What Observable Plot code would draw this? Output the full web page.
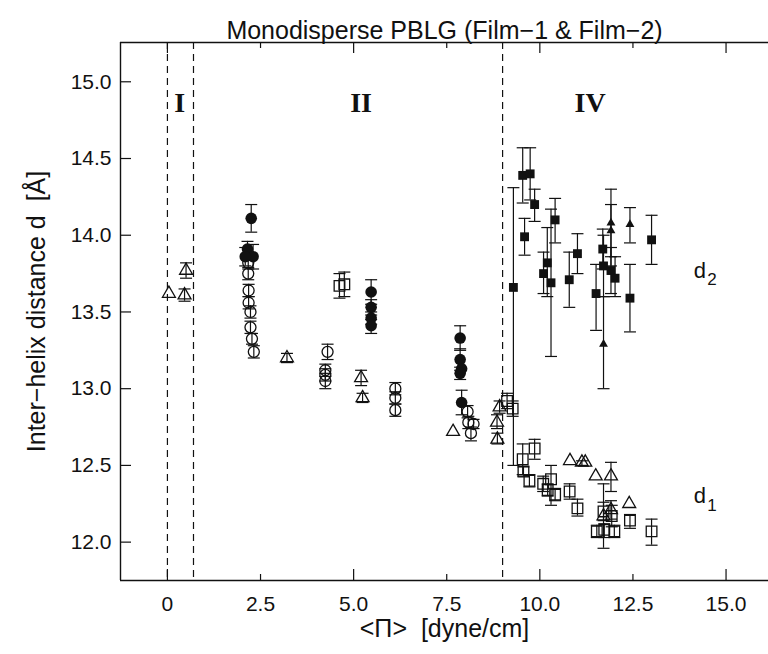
<!DOCTYPE html>
<html>
<head>
<meta charset="utf-8">
<script src="https://cdn.jsdelivr.net/npm/d3@7"></script>
<script src="https://cdn.jsdelivr.net/npm/@observablehq/plot@0.6"></script>
<style>
  html, body { margin: 0; padding: 0; background: #fff; }
</style>
</head>
<body>
<div id="chart"></div>
<script>
// ---------- Text ----------
const titleText = "Monodisperse PBLG (Film\u22121 & Film\u22122)";
const xTitle = "<\u03A0>  [dyne/cm]";
const yTitle = "Inter\u2212helix distance d  [\u00C5]";

// ---------- Axes / ticks ----------
const xDomain = [-1.26, 16.14];
const yDomain = [11.75, 15.256];
const xLabelTicks = [0, 2.5, 5, 7.5, 10, 12.5, 15];
const xMajorTicks = [0, 5, 10, 15];
const xMinorTicks = [2.5, 7.5, 12.5];
const yLabelTicks = [12.0, 12.5, 13.0, 13.5, 14.0, 14.5, 15.0];
const phaseBoundaries = [0, 0.7, 9.0];

// ---------- Region labels ----------
const regionNames = ["I", "II", "IV"];
const regionX = [0.33, 5.2, 11.35];
const regionY = [14.8, 14.8, 14.8];

const seriesNames = ["d", "d"];
const seriesSubs = ["2", "1"];
const seriesLabelX = [14.3, 14.3];
const seriesLabelY = [13.77, 12.30];

// ---------- Data ----------
// Open triangles
const triOpenX  = [0.04, 0.50, 0.46, 3.21, 5.20, 5.24, 7.67, 8.92, 8.85, 8.86, 10.81, 11.13, 11.22, 11.50, 11.91, 12.40, 11.71, 11.91];
const triOpenY  = [13.62, 13.77, 13.61, 13.20, 13.07, 12.94, 12.72, 12.88, 12.78, 12.67, 12.53, 12.52, 12.52, 12.43, 12.43, 12.25, 12.17, 12.21];
const triOpenLo = [null, 13.72, 13.57, 13.17, 13.02, 12.91, null, 12.84, 12.74, 12.64, null, 12.50, null, null, 12.33, null, 11.96, 12.15];
const triOpenHi = [null, 13.82, 13.65, 13.23, 13.12, 12.97, null, 12.92, 12.83, 12.71, null, 12.53, null, null, 12.52, null, 12.38, 12.27];

// Open circles
const circOpenX  = [2.17, 2.17, 2.18, 2.18, 2.23, 2.23, 2.27, 2.32, 4.30, 4.24, 4.24, 4.24, 6.12, 6.12, 6.12, 8.06, 8.08, 8.22, 8.15];
const circOpenY  = [13.82, 13.75, 13.64, 13.56, 13.50, 13.40, 13.325, 13.24, 13.24, 13.12, 13.09, 13.05, 13.00, 12.94, 12.86, 12.85, 12.78, 12.77, 12.71];
const circOpenLo = [13.78, 13.71, 13.60, 13.52, 13.46, 13.36, 13.29, 13.20, 13.19, 13.08, 13.05, 13.00, 12.96, 12.90, 12.82, 12.81, 12.74, 12.74, 12.66];
const circOpenHi = [13.86, 13.79, 13.68, 13.60, 13.54, 13.44, 13.36, 13.28, 13.29, 13.16, 13.13, 13.10, 13.04, 12.98, 12.90, 12.89, 12.82, 12.80, 12.75];

// Filled circles
const circFillX  = [2.25, 2.15, 2.30, 2.09, 5.47, 5.47, 5.47, 5.47, 7.86, 7.86, 7.90, 7.86, 7.90];
const circFillY  = [14.11, 13.91, 13.86, 13.86, 13.63, 13.53, 13.46, 13.41, 13.33, 13.19, 13.13, 13.10, 12.91];
const circFillLo = [14.02, 13.86, 13.78, 13.80, 13.55, 13.48, 13.42, 13.36, 13.25, 13.12, null, 13.06, 12.83];
const circFillHi = [14.20, 13.96, 13.94, 13.92, 13.71, 13.58, 13.50, 13.45, 13.41, 13.26, null, 13.14, 12.99];

// Open squares
const sqOpenX  = [4.62, 4.75, 9.12, 9.27, 9.54, 9.86, 9.56, 9.72, 10.09, 10.30, 10.21, 10.41, 10.80, 11.01, 11.71, 11.93, 11.53, 11.73, 12.00, 12.42, 13.00];
const sqOpenY  = [13.67, 13.68, 12.92, 12.87, 12.54, 12.61, 12.46, 12.40, 12.38, 12.41, 12.34, 12.31, 12.33, 12.22, 12.20, 12.17, 12.07, 12.08, 12.07, 12.14, 12.07];
const sqOpenLo = [13.59, 13.60, 12.87, 12.82, 12.44, 12.54, 12.43, 12.36, 12.33, 12.24, 12.30, 12.27, 12.28, 12.17, 12.14, 12.10, 12.03, 12.03, 12.03, 12.09, 11.98];
const sqOpenHi = [13.75, 13.76, 12.97, 12.92, 12.64, 12.67, 12.49, 12.44, 12.43, 12.50, 12.38, 12.35, 12.38, 12.28, 12.26, 12.24, 12.11, 12.12, 12.11, 12.18, 12.15];

// Filled squares
const sqFillX  = [9.29, 9.54, 9.74, 9.86, 9.59, 10.41, 10.20, 10.10, 10.30, 10.79, 11.01, 11.51, 11.69, 11.71, 11.91, 12.02, 12.42, 13.00];
const sqFillY  = [13.66, 14.39, 14.40, 14.20, 13.99, 14.10, 13.82, 13.75, 13.69, 13.71, 13.88, 13.62, 13.91, 13.80, 13.77, 13.72, 13.59, 13.97];
const sqFillLo = [12.50, 14.21, 14.23, 14.09, 13.87, 13.95, 13.60, 13.62, 13.21, 13.53, 13.75, 13.38, 13.78, 13.60, 13.62, 13.60, 13.37, 13.81];
const sqFillHi = [14.31, 14.57, 14.57, 14.30, 14.11, 14.24, 14.05, 13.89, 14.17, 13.89, 14.01, 13.81, 14.04, 14.00, 13.92, 13.86, 13.81, 14.13];

// Filled triangles
const triFillX  = [11.91, 11.91, 12.42, 11.71];
const triFillY  = [14.08, 14.03, 14.07, 13.29];
const triFillLo = [13.86, 13.80, 13.95, 13.00];
const triFillHi = [14.30, 14.20, 14.18, 13.60];

// ---------- Build tables ----------
function rows(xs, ys, lo, hi) {
  return xs.map((x, i) => ({x, y: ys[i], lo: lo[i], hi: hi[i]}));
}
const triOpen = rows(triOpenX, triOpenY, triOpenLo, triOpenHi);
const circOpen = rows(circOpenX, circOpenY, circOpenLo, circOpenHi);
const circFill = rows(circFillX, circFillY, circFillLo, circFillHi);
const sqOpen = rows(sqOpenX, sqOpenY, sqOpenLo, sqOpenHi);
const sqFill = rows(sqFillX, sqFillY, sqFillLo, sqFillHi);
const triFill = rows(triFillX, triFillY, triFillLo, triFillHi);
const allRows = [...triOpen, ...circOpen, ...circFill, ...sqOpen, ...sqFill, ...triFill];
const errRows = allRows.filter(d => d.lo != null && d.hi != null);

const regions = regionNames.map((t, i) => ({t, x: regionX[i], y: regionY[i]}));
const seriesLabels = seriesNames.map((t, i) => ({t, s: seriesSubs[i], x: seriesLabelX[i], y: seriesLabelY[i]}));

// ---------- Layout ----------
const W = 768, H = 654, mL = 120, mR = 0, mT = 42, mB = 74;
const kx = (xDomain[1] - xDomain[0]) / (W - mL - mR);
const ky = (yDomain[1] - yDomain[0]) / (H - mT - mB);
const majorLen = 11, minorLen = 6;

const capSymbol = {
  draw(ctx, size) {
    const w = Math.sqrt(size / Math.PI);
    ctx.moveTo(-w, 0);
    ctx.lineTo(w, 0);
  }
};

const sansFont = "'Liberation Sans', Arial, sans-serif";
const ink = "#111";

const chart = Plot.plot({
  width: W,
  height: H,
  marginLeft: mL,
  marginRight: mR,
  marginTop: mT,
  marginBottom: mB,
  style: {fontFamily: sansFont, fontSize: "20px", color: ink, background: "#fff", overflow: "visible"},
  x: {domain: xDomain, axis: null},
  y: {domain: yDomain, axis: null},
  marks: [
    // frame (left, bottom, top)
    Plot.ruleX([xDomain[0]], {stroke: ink, strokeWidth: 1.4}),
    Plot.ruleY([yDomain[0], yDomain[1]], {stroke: ink, strokeWidth: 1.4}),
    // x ticks, bottom and top, inward
    Plot.ruleX(xMajorTicks, {x: d => d, y1: yDomain[0], y2: yDomain[0] + majorLen * ky, stroke: ink, strokeWidth: 1.2}),
    Plot.ruleX(xMinorTicks, {x: d => d, y1: yDomain[0], y2: yDomain[0] + minorLen * ky, stroke: ink, strokeWidth: 1.2}),
    Plot.ruleX(xMajorTicks, {x: d => d, y1: yDomain[1], y2: yDomain[1] - majorLen * ky, stroke: ink, strokeWidth: 1.2}),
    Plot.ruleX(xMinorTicks, {x: d => d, y1: yDomain[1], y2: yDomain[1] - minorLen * ky, stroke: ink, strokeWidth: 1.2}),
    // y ticks, inward
    Plot.ruleY(yLabelTicks, {y: d => d, x1: xDomain[0], x2: xDomain[0] + majorLen * kx, stroke: ink, strokeWidth: 1.2}),
    // tick labels
    Plot.text(xLabelTicks, {x: d => d, y: yDomain[0], text: d => d === 0 ? "0" : d.toFixed(1), dy: 24, fontSize: 21, fill: ink}),
    Plot.text(yLabelTicks, {x: xDomain[0], y: d => d, text: d => d.toFixed(1), textAnchor: "end", dx: -9, fontSize: 21, fill: ink}),
    // axis titles and chart title
    Plot.text([xTitle], {frameAnchor: "bottom", dy: 56, fontSize: 25, fill: ink}),
    Plot.text([yTitle], {frameAnchor: "left", textAnchor: "middle", dx: -84, rotate: -90, fontSize: 25, fill: ink}),
    Plot.text([titleText], {frameAnchor: "top", textAnchor: "middle", dy: -21, fontSize: 25, fill: ink}),
    // phase boundaries
    Plot.ruleX(phaseBoundaries, {x: d => d, stroke: ink, strokeWidth: 1.2, strokeDasharray: "7,5"}),
    // region labels
    Plot.text(regions, {x: "x", y: "y", text: "t", fontFamily: "'Liberation Serif', 'Times New Roman', serif", fontWeight: "bold", fontSize: 28, lineAnchor: "bottom", fill: ink}),
    // series labels d2, d1
    Plot.text(seriesLabels, {x: "x", y: "y", text: "t", fontSize: 22, fill: ink}),
    Plot.text(seriesLabels, {x: "x", y: "y", text: "s", dx: 12, dy: 9, fontSize: 17, fill: ink}),
    // error bars
    Plot.ruleX(errRows, {x: "x", y1: "lo", y2: "hi", stroke: ink, strokeWidth: 1.2}),
    Plot.dot(errRows, {x: "x", y: "lo", symbol: capSymbol, r: 6, stroke: ink, fill: "none", strokeWidth: 1.2}),
    Plot.dot(errRows, {x: "x", y: "hi", symbol: capSymbol, r: 6, stroke: ink, fill: "none", strokeWidth: 1.2}),
    // markers
    Plot.dot(circOpen, {x: "x", y: "y", symbol: "circle", r: 5.5, fill: "none", stroke: ink, strokeWidth: 1.3}),
    Plot.dot(sqOpen, {x: "x", y: "y", symbol: "square", r: 6, fill: "none", stroke: ink, strokeWidth: 1.3}),
    Plot.dot(triOpen, {x: "x", y: "y", symbol: "triangle", r: 4.8, fill: "none", stroke: ink, strokeWidth: 1.3}),
    Plot.dot(circFill, {x: "x", y: "y", symbol: "circle", r: 5.8, fill: ink, stroke: "none"}),
    Plot.dot(sqFill, {x: "x", y: "y", symbol: "square", r: 5, fill: ink, stroke: "none"}),
    Plot.dot(triFill, {x: "x", y: "y", symbol: "triangle", r: 3.3, fill: ink, stroke: "none"})
  ]
});

document.getElementById("chart").appendChild(chart);
</script>
</body>
</html>
